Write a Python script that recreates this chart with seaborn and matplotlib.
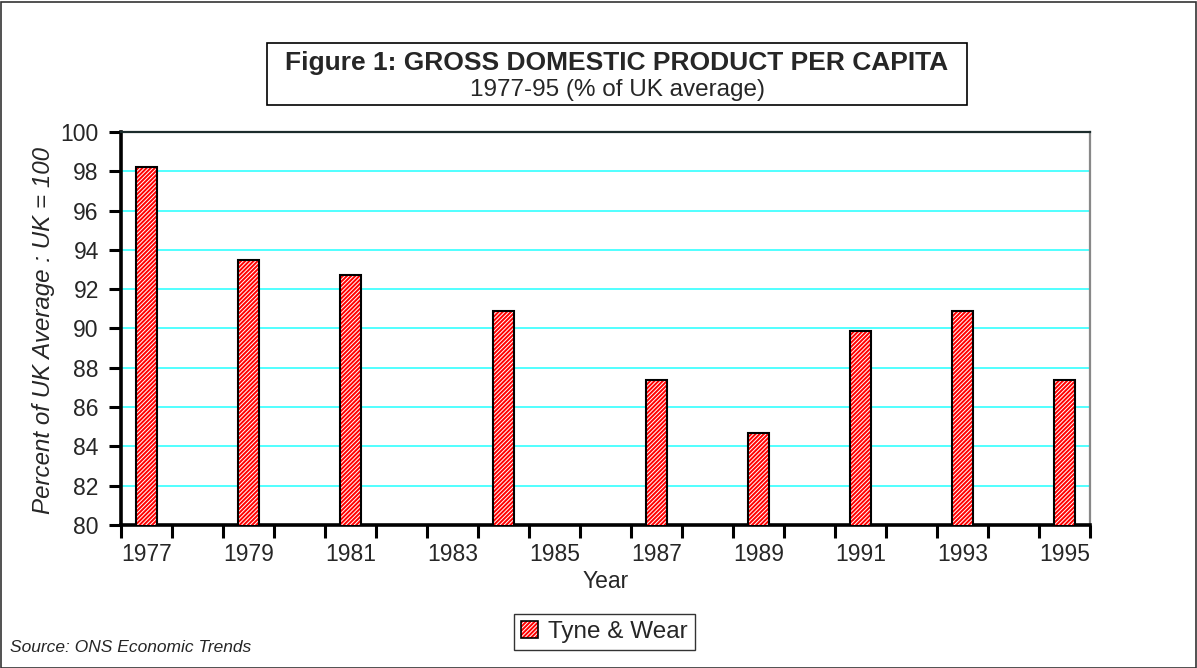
import numpy as np
import pandas as pd
import matplotlib
matplotlib.use("Agg")
import matplotlib.pyplot as plt
import seaborn as sns
from matplotlib.patches import Rectangle, Patch

# ---- data ----
years = [str(y) for y in range(1977, 1996)]
bar_years = ["1977", "1979", "1981", "1984", "1987", "1989", "1991", "1993", "1995"]
gdp = [98.2, 93.5, 92.7, 90.9, 87.4, 84.7, 89.85, 90.9, 87.4]
label_years = [str(y) for y in range(1977, 1996, 2)]
y_ticks = list(range(80, 101, 2))
series_name = "Tyne & Wear"

sns.set_theme(style="white")
plt.rcParams['font.family'] = ['Liberation Sans', 'DejaVu Sans']
plt.rcParams['hatch.linewidth'] = 0.7

df = pd.DataFrame({"Year": bar_years, "GDP": gdp})

W, H = 1197, 668
fig = plt.figure(figsize=(W / 100, H / 100), dpi=100)
ax = fig.add_axes([121 / W, 1 - 525 / H, (1090 - 121) / W, (525 - 132) / H])

# hatched red fill (white hatch)
sns.barplot(data=df, x="Year", y="GDP", order=years, color="#FF0000", saturation=1,
            width=0.4, edgecolor="white", linewidth=0, hatch="////////", ax=ax, zorder=3)
# black outline
sns.barplot(data=df, x="Year", y="GDP", order=years, color="black", fill=False,
            width=0.4, linewidth=1.5, ax=ax, zorder=4)

ax.set_xlim(-0.5, len(years) - 0.5)
ax.set_ylim(80, 100)
ax.set_yticks(y_ticks)
ax.set_yticklabels([str(v) for v in y_ticks], fontsize=16.5)
ax.yaxis.grid(True, color="#33FFFF", linewidth=1.2, zorder=0)
ax.set_axisbelow(True)

# x ticks at category boundaries, labels at every other category center
major = np.arange(-0.5, len(years), 1.0)
ax.set_xticks(major)
ax.set_xticklabels([""] * len(major))
lab_pos = [years.index(y) for y in label_years]
ax.set_xticks(lab_pos, minor=True)
ax.set_xticklabels(label_years, minor=True, fontsize=16.5)
ax.tick_params(axis="x", which="major", direction="out", length=9, width=2.2, color="black", bottom=True)
ax.tick_params(axis="x", which="minor", length=0, pad=13, bottom=True)
ax.tick_params(axis="y", which="major", direction="out", length=9, width=2.2, color="black", left=True, pad=7)

for s in ["left", "bottom"]:
    ax.spines[s].set_color("black")
    ax.spines[s].set_linewidth(2.6)
ax.spines["top"].set_color("#1c2c2c")
ax.spines["top"].set_linewidth(1.6)
ax.spines["right"].set_color("#888888")
ax.spines["right"].set_linewidth(1.6)

ax.set_xlabel("Year", fontsize=16.5, labelpad=3)
ax.set_ylabel("")
fig.text(44 / W, 1 - 330 / H, "Percent of UK Average : UK = 100", rotation=90,
         style="italic", fontsize=17.4, ha="center", va="center")

# title box
fig.add_artist(Rectangle((267 / W, 1 - 105 / H), 700 / W, 62 / H, transform=fig.transFigure,
                         facecolor="white", edgecolor="black", linewidth=1.2))
fig.text(617 / W, 1 - 63 / H, "Figure 1: GROSS DOMESTIC PRODUCT PER CAPITA",
         fontsize=19, fontweight="bold", ha="center", va="center")
fig.text(617 / W, 1 - 90 / H, "1977-95 (% of UK average)", fontsize=17.5, ha="center", va="center")

# legend
handle = (Patch(facecolor="#FF0000", edgecolor="white", hatch="////////", linewidth=0),
          Patch(facecolor="none", edgecolor="black", linewidth=1.2))
leg = fig.legend([handle], [series_name], loc="center", bbox_to_anchor=(604.5 / W, 1 - 632 / H),
                 fontsize=17.5, frameon=True, fancybox=False, edgecolor="black",
                 handlelength=0.7, handleheight=0.7, handletextpad=0.4, borderpad=0.3)
leg.get_frame().set_linewidth(1.0)

fig.text(10 / W, 1 - 648 / H, "Source: ONS Economic Trends", style="italic", fontsize=12.5,
         ha="left", va="center")

# outer border
fig.add_artist(Rectangle((0.5 / W, 0.5 / H), (W - 2) / W, (H - 2) / H, transform=fig.transFigure,
                         facecolor="none", edgecolor="#333333", linewidth=1.2))

fig.savefig("out.png", dpi=100)
